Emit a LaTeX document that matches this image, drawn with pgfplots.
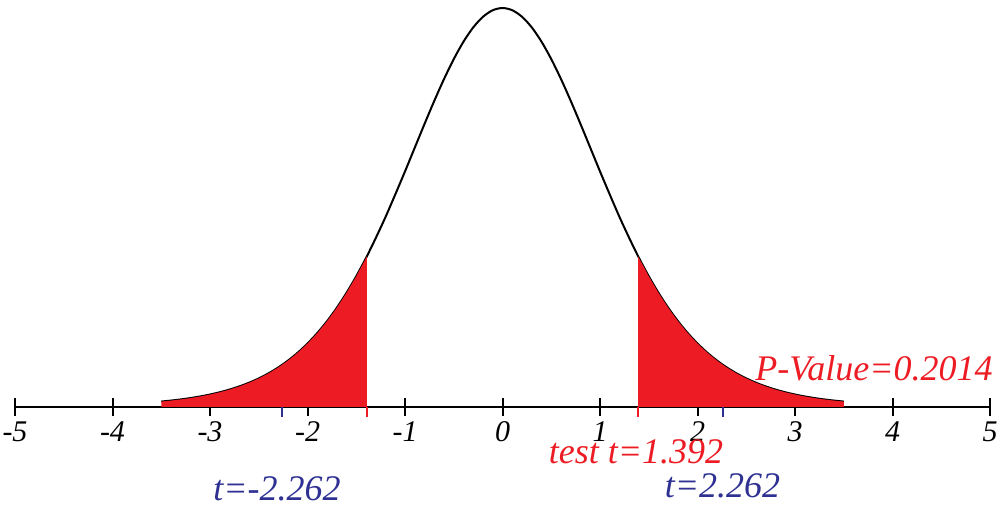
\documentclass[border=0pt]{standalone}
\usepackage{fontspec}
\setmainfont{Liberation Serif}
\usepackage{pgfplots}
\usepackage{pgfplotstable}
\pgfplotsset{compat=1.18}
\definecolor{tred}{RGB}{237,28,36}
\definecolor{tblue}{RGB}{46,49,146}

% t distribution, 9 df
\pgfplotstableread{
t      f
-3.5   0.00529
-3.4   0.00624
-3.3   0.00736
-3.2   0.00869
-3.1   0.01026
-3.0   0.01213
-2.9   0.01433
-2.8   0.01692
-2.7   0.01998
-2.6   0.02357
-2.5   0.02778
-2.4   0.03271
-2.3   0.03846
-2.2   0.04512
-2.1   0.05283
-2.0   0.06172
-1.9   0.07186
-1.8   0.08340
-1.7   0.09641
-1.6   0.11099
-1.5   0.12715
-1.4   0.14490
-1.3   0.16430
-1.2   0.18475
-1.1   0.20668
-1.0   0.22913
-0.9   0.25219
-0.8   0.27523
-0.7   0.29768
-0.6   0.31893
-0.5   0.33835
-0.4   0.35531
-0.3   0.36920
-0.2   0.37952
-0.1   0.38588
0.0    0.38803
0.1    0.38588
0.2    0.37952
0.3    0.36920
0.4    0.35531
0.5    0.33835
0.6    0.31893
0.7    0.29768
0.8    0.27523
0.9    0.25219
1.0    0.22913
1.1    0.20668
1.2    0.18475
1.3    0.16430
1.4    0.14490
1.5    0.12715
1.6    0.11099
1.7    0.09641
1.8    0.08340
1.9    0.07186
2.0    0.06172
2.1    0.05283
2.2    0.04512
2.3    0.03846
2.4    0.03271
2.5    0.02778
2.6    0.02357
2.7    0.01998
2.8    0.01692
2.9    0.01433
3.0    0.01213
3.1    0.01026
3.2    0.00869
3.3    0.00736
3.4    0.00624
3.5    0.00529
}\curve

\pgfplotstableread{
t       f
-3.5    0.00529
-3.4    0.00624
-3.3    0.00736
-3.2    0.00869
-3.1    0.01026
-3.0    0.01213
-2.9    0.01433
-2.8    0.01692
-2.7    0.01998
-2.6    0.02357
-2.5    0.02778
-2.4    0.03271
-2.3    0.03846
-2.2    0.04512
-2.1    0.05283
-2.0    0.06172
-1.9    0.07186
-1.8    0.08340
-1.7    0.09641
-1.6    0.11099
-1.5    0.12715
-1.4    0.14490
-1.392  0.14637
}\lefttail

\pgfplotstableread{
t       f
1.392   0.14637
1.4     0.14490
1.5     0.12715
1.6     0.11099
1.7     0.09641
1.8     0.08340
1.9     0.07186
2.0     0.06172
2.1     0.05283
2.2     0.04512
2.3     0.03846
2.4     0.03271
2.5     0.02778
2.6     0.02357
2.7     0.01998
2.8     0.01692
2.9     0.01433
3.0     0.01213
3.1     0.01026
3.2     0.00869
3.3     0.00736
3.4     0.00624
3.5     0.00529
}\righttail

\begin{document}
\begin{tikzpicture}
\begin{axis}[
    at={(0,0)}, anchor=south west,
    scale only axis, width=487.5pt, height=200.5pt,
    xmin=-5, xmax=5, ymin=0, ymax=0.39,
    axis x line=middle, axis y line=none,
    axis line style={-, line width=1pt, black},
    xtick={-5,-4,...,5},
    xticklabels={-5,-4,-3,-2,-1,0,1,2,3,4,5},
    tick align=center, major tick length=9pt,
    xtick style={line width=1pt, black},
    xticklabel style={font=\fontsize{15}{17}\selectfont\itshape,
        anchor=base, inner sep=0pt, yshift=-13pt},
    clip=false,
]
\addplot[black, line width=1pt, smooth] table[x=t, y=f] {\curve};
\addplot[fill=tred, draw=none] table[x=t, y=f] {\lefttail} \closedcycle;
\addplot[fill=tred, draw=none] table[x=t, y=f] {\righttail} \closedcycle;
% small marks below the axis
\addplot[tred, line width=1pt] coordinates {(-1.392,0) (-1.392,-0.0095)};
\addplot[tred, line width=1pt] coordinates {(1.392,0) (1.392,-0.0095)};
\addplot[tblue, line width=1pt] coordinates {(-2.262,0) (-2.262,-0.0095)};
\addplot[tblue, line width=1pt] coordinates {(2.262,0) (2.262,-0.0095)};

\node[anchor=base east, tred, inner sep=0pt, font=\fontsize{18}{20}\selectfont\itshape]
    at (axis cs:5.03,0.0253) {P-Value=0.2014};
\node[anchor=base, tred, inner sep=0pt, font=\fontsize{18}{20}\selectfont\itshape]
    at (axis cs:1.369,-0.0545) {test t=1.392};
\node[anchor=base, tblue, inner sep=0pt, font=\fontsize{18}{20}\selectfont\itshape]
    at (axis cs:-2.313,-0.0905) {t=-2.262};
\node[anchor=base, tblue, inner sep=0pt, font=\fontsize{18}{20}\selectfont\itshape]
    at (axis cs:2.256,-0.0885) {t=2.262};
\end{axis}
\pgfresetboundingbox
\path[use as bounding box] (-7.5pt,-50pt) rectangle (492.5pt,203.5pt);
\end{tikzpicture}
\end{document}
